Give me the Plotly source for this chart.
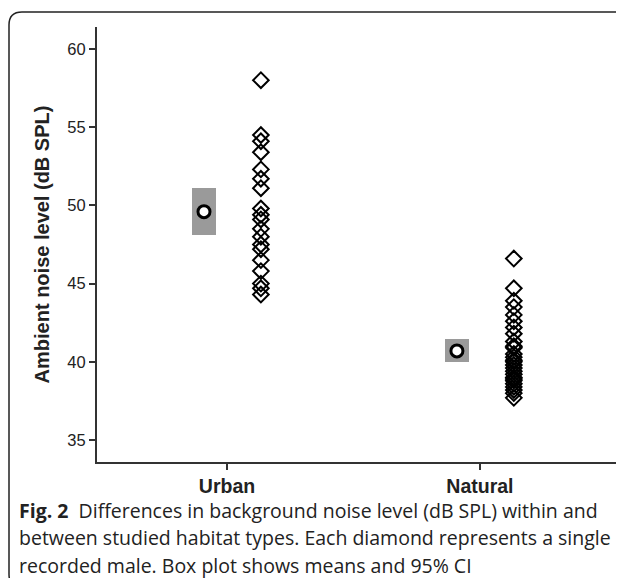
import plotly.graph_objects as go

# ---- data ----
categories = ["Urban", "Natural"]
urban_noise = [58.0, 54.5, 54.1, 53.4, 52.3, 51.7, 51.1, 49.8, 49.4, 49.1,
               48.5, 48.0, 47.5, 47.2, 46.5, 45.8, 45.0, 44.7, 44.3]
natural_noise = [46.6, 44.7, 43.9, 43.5, 43.0, 42.6, 42.2, 41.8, 41.3, 41.0,
                 40.9, 40.5, 40.3, 40.1, 40.0, 39.8, 39.6, 39.4, 39.2, 39.0,
                 38.9, 38.8, 38.6, 38.4, 38.2, 38.0, 37.7]
group_means = [49.6, 40.7]
ci_low = [48.1, 40.0]
ci_high = [51.1, 41.45]
y_ticks = [35, 40, 45, 50, 55, 60]

# ---- layout constants (pixels) ----
OFF = 8                      # page body margin
W, H = 608, 570              # figure size so page fits the window
L, R, T, B = 97 - OFF, 0, 27 - OFF, H - (462 - OFF)
PW, PH = W - L - R, H - T - B

def px(x_page):
    return (x_page - OFF - L) / PW

def py(y_page):
    return (H - B - (y_page - OFF)) / PH

cat_pos = list(range(len(categories)))
box_off = -0.091
dot_off = 0.134

fig = go.Figure()

# CI boxes
fig.add_trace(go.Bar(
    x=[p + box_off for p in cat_pos],
    y=[h - l for h, l in zip(ci_high, ci_low)],
    base=ci_low,
    width=0.095,
    marker=dict(color="#9a9a9a", line=dict(width=0)),
    hoverinfo="skip", showlegend=False,
))

# means
fig.add_trace(go.Scatter(
    x=[p + box_off for p in cat_pos], y=group_means, mode="markers",
    marker=dict(symbol="circle", size=12, color="white",
                line=dict(color="black", width=3)),
    showlegend=False,
))

# individual males
for p, vals in zip(cat_pos, [urban_noise, natural_noise]):
    fig.add_trace(go.Scatter(
        x=[p + dot_off] * len(vals), y=vals, mode="markers",
        marker=dict(symbol="diamond-open", size=12, color="black",
                    line=dict(color="black", width=2)),
        showlegend=False,
    ))

axis_font = dict(family="Liberation Sans, Arial, sans-serif", color="#222")

fig.update_layout(
    width=W, height=H,
    margin=dict(l=L, r=R, t=T, b=B, pad=0),
    paper_bgcolor="white", plot_bgcolor="white",
    bargap=0,
    xaxis=dict(
        range=[-0.514, 1.538],
        tickvals=cat_pos,
        ticktext=["<b>%s</b>" % c for c in categories],
        tickfont=dict(size=19.5, **axis_font),
        showgrid=False, zeroline=False,
        showline=True, linecolor="#333", linewidth=2,
        ticks="outside", ticklen=6, tickwidth=1.5, tickcolor="#333",
    ),
    yaxis=dict(
        range=[33.6, 61.4],
        tickvals=y_ticks,
        tickfont=dict(size=16.5, **axis_font),
        showgrid=False, zeroline=False,
        showline=True, linecolor="#333", linewidth=2,
        ticks="outside", ticklen=6, tickwidth=1.5, tickcolor="#333",
        title=dict(text="<b>Ambient noise level (dB SPL)</b>",
                   font=dict(size=20, **axis_font), standoff=12),
    ),
)

# panel border (top line + left line with rounded corners)
border = (f"M {px(630)},{py(12)} L {px(22)},{py(12)} "
          f"Q {px(9)},{py(12)} {px(9)},{py(25)} "
          f"L {px(9)},{py(574)} Q {px(9)},{py(585)} {px(16)},{py(586)}")
fig.add_shape(type="path", path=border, xref="paper", yref="paper",
              line=dict(color="#222", width=1.5))

# caption
cap_font = dict(family="Open Sans, Noto Sans, sans-serif", size=19.5, color="#222")
cap_lines = [
    "<b>Fig. 2</b>  Differences in background noise level (dB SPL) within and",
    "between studied habitat types. Each diamond represents a single",
    "recorded male. Box plot shows means and 95% CI",
]
for i, txt in enumerate(cap_lines):
    fig.add_annotation(text=txt, x=px(17), y=py(510 + 27.5 * i),
                       xref="paper", yref="paper", xanchor="left", yanchor="middle",
                       showarrow=False, font=cap_font, align="left")

fig.write_html("out.html")
